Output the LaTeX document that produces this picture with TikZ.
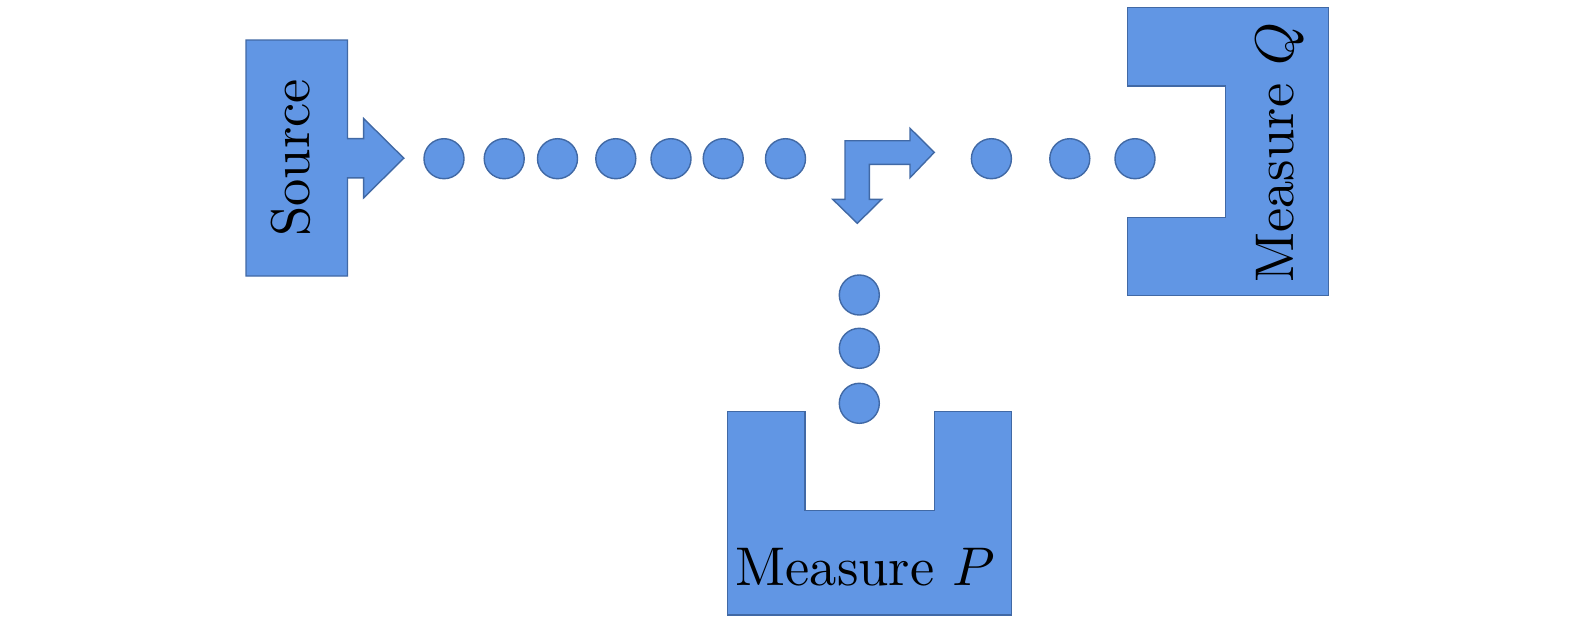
\documentclass[tikz,border=0pt]{standalone}
\usepackage{tikz}

\definecolor{boxfill}{RGB}{97,150,228}
\definecolor{boxline}{RGB}{65,105,165}

\tikzset{
  blockshape/.style={fill=boxfill, draw=boxline, line width=0.4pt},
  dot/.style={circle, fill=boxfill, draw=boxline, line width=0.4pt,
    inner sep=0pt, minimum size=0.4cm},
  boxtext/.style={font=\normalsize, scale=1.55, inner sep=0pt}
}

\begin{document}
\begin{tikzpicture}[x=0.01cm, y=-0.01cm]
    \useasboundingbox (0,0) rectangle (1575,630);
    % source with its arrow
    \begin{scope}[local bounding box=source]
      \filldraw[blockshape] (246,40) -- (347.5,40) -- (347.5,138.6) -- (363.6,138.6)
        -- (363.6,118.5) -- (403.8,158.2) -- (363.6,197.9) -- (363.6,177.8)
        -- (347.5,177.8) -- (347.5,276) -- (246,276) -- cycle;
      \node[boxtext, rotate=90] (srclabel) at (291,158) {Source};
    \end{scope}
    % bent arrow at the splitter
    \filldraw[blockshape] (845,140.7) -- (910,140.7) -- (910,128.3) -- (934.3,152.3)
      -- (910,177.7) -- (910,164.3) -- (869.3,164.3) -- (869.3,199.3)
      -- (881.7,199.3) -- (857.3,223.3) -- (832.7,199.3) -- (845,199.3) -- cycle;
    % measure Q
    \begin{scope}[local bounding box=measq]
      \filldraw[blockshape] (1127.7,7.3) -- (1328.3,7.3) -- (1328.3,295.7)
        -- (1127.7,295.7) -- (1127.7,217.3) -- (1225.3,217.3) -- (1225.3,86)
        -- (1127.7,86) -- cycle;
      \node[boxtext, rotate=90] (qlabel) at (1280,152.5) {Measure $Q$};
    \end{scope}
    % measure P
    \begin{scope}[local bounding box=measp]
      \filldraw[blockshape] (727.7,411.7) -- (805,411.7) -- (805,510.7) -- (934.3,510.7)
        -- (934.3,411.7) -- (1011.7,411.7) -- (1011.7,615) -- (727.7,615) -- cycle;
      \node[boxtext, anchor=base] (plabel) at (865.5,585) {Measure $P$};
    \end{scope}
    % particles
    \foreach \x [count=\i] in {444,504.2,557.5,615.8,671,723.2,785.5,991.4,1069.8,1135}
      \node[dot] (h\i) at (\x,158.7) {};
    \foreach \y [count=\i] in {295,348.3,403.3}
      \node[dot] (v\i) at (859.3,\y) {};
\end{tikzpicture}
\end{document}
